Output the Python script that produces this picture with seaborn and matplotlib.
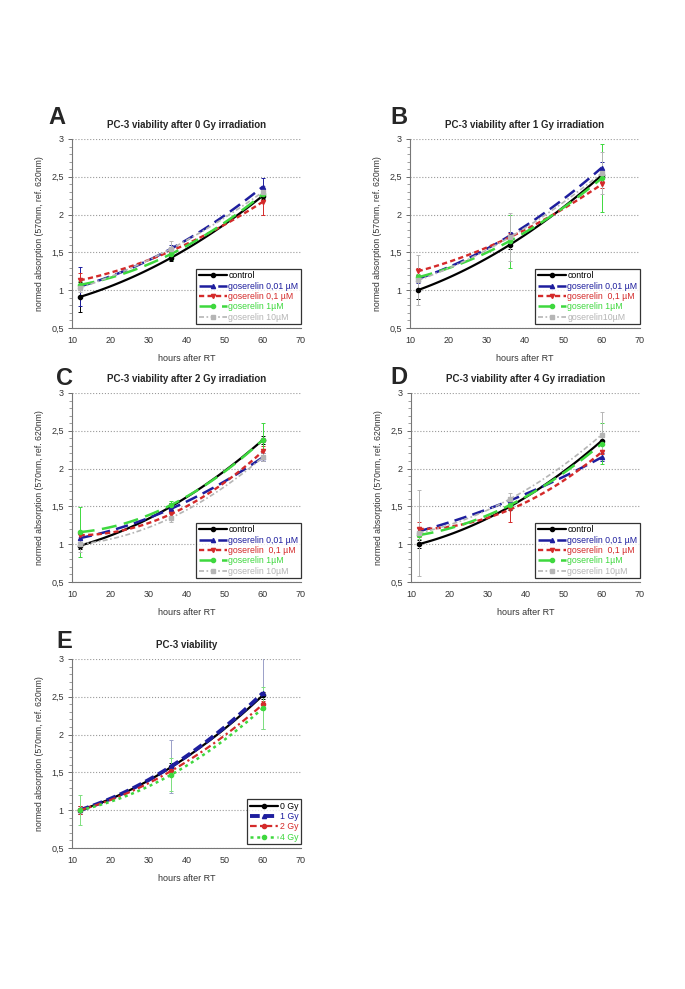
import numpy as np
import pandas as pd
import matplotlib
matplotlib.use("Agg")
import matplotlib.pyplot as plt
import seaborn as sns
from matplotlib.lines import Line2D
from matplotlib.ticker import MultipleLocator

# datos (media y error por punto de tiempo)
hours = [12, 36, 60]
series_gos = ['control', 'goserelin 0,01 µM', 'goserelin 0,1 µM', 'goserelin 1µM', 'goserelin 10µM']
series_gos_b = ['control', 'goserelin 0,01 µM', 'goserelin  0,1 µM', 'goserelin 1µM', 'goserelin10µM']
series_gos_cd = ['control', 'goserelin 0,01 µM', 'goserelin  0,1 µM', 'goserelin 1µM', 'goserelin 10µM']
series_dose = ['0 Gy', '1 Gy', '2 Gy', '4 Gy']

gy0_mean = [[0.91, 1.43, 2.25], [1.05, 1.55, 2.37], [1.13, 1.52, 2.17], [1.07, 1.48, 2.27], [1.03, 1.55, 2.30]]
gy0_err = [[0.20, 0.04, 0.05], [0.26, 0.05, 0.12], [0.10, 0.05, 0.17], [0.05, 0.08, 0.05], [0.05, 0.10, 0.08]]

gy1_mean = [[1.00, 1.60, 2.52], [1.15, 1.72, 2.62], [1.25, 1.70, 2.40], [1.17, 1.65, 2.48], [1.13, 1.70, 2.55]]
gy1_err = [[0.12, 0.05, 0.05], [0.05, 0.05, 0.08], [0.05, 0.05, 0.05], [0.05, 0.35, 0.45], [0.33, 0.32, 0.28]]

gy2_mean = [[0.98, 1.50, 2.38], [1.08, 1.47, 2.15], [1.12, 1.40, 2.23], [1.16, 1.52, 2.38], [1.00, 1.35, 2.15]]
gy2_err = [[0.05, 0.05, 0.05], [0.05, 0.05, 0.05], [0.05, 0.05, 0.07], [0.33, 0.05, 0.22], [0.10, 0.05, 0.05]]

gy4_mean = [[1.00, 1.50, 2.37], [1.17, 1.58, 2.15], [1.20, 1.46, 2.22], [1.12, 1.52, 2.33], [1.15, 1.60, 2.45]]
gy4_err = [[0.05, 0.05, 0.05], [0.05, 0.05, 0.05], [0.10, 0.17, 0.03], [0.05, 0.05, 0.27], [0.57, 0.08, 0.30]]

dose_mean = [[1.00, 1.57, 2.52], [1.00, 1.58, 2.55], [1.00, 1.52, 2.40], [1.00, 1.47, 2.35]]
dose_err = [[0.05, 0.05, 0.05], [0.05, 0.35, 0.48], [0.05, 0.05, 0.05], [0.20, 0.22, 0.28]]

ytick_vals = [0.5, 1, 1.5, 2, 2.5, 3]
ytick_labels = ['0,5', '1', '1,5', '2', '2,5', '3']
xtick_vals = [10, 20, 30, 40, 50, 60, 70]

# estilos
sty_gos = [
    dict(color='black', ls='-', lw=1.6, marker='o', err='black'),
    dict(color='#1e1e9e', ls=(0, (5, 2.5)), lw=1.8, marker='^', err='#1e1e9e'),
    dict(color='#d42a2a', ls=(0, (2.2, 1.4)), lw=1.7, marker='v', err='#d42a2a'),
    dict(color='#3ed83e', ls=(0, (6, 3)), lw=1.8, marker='o', err='#3ed83e'),
    dict(color='#b5b5b5', ls=(0, (3, 1.5, 1, 1.5)), lw=1.2, marker='s', err='#b5b5b5'),
]
sty_dose = [
    dict(color='black', ls='-', lw=1.6, marker='o', err='black'),
    dict(color='#1e1e9e', ls=(0, (2.5, 1.2)), lw=2.8, marker='^', err='#9aa0c8'),
    dict(color='#d42a2a', ls=(0, (3, 1.5, 1, 1.5)), lw=1.6, marker='o', err='#d42a2a'),
    dict(color='#3ed83e', ls=(0, (1.2, 1.5)), lw=1.8, marker='o', err='#7ee07e'),
]

sns.set_style('white')
plt.rcParams['font.family'] = ['Liberation Sans', 'DejaVu Sans']

W, H = 685, 989
fig = plt.figure(figsize=(W / 100, H / 100), dpi=100)


def box(x0, x1, ytop, ybot):
    return [x0 / W, 1 - ybot / H, (x1 - x0) / W, (ybot - ytop) / H]


def draw_panel(ax, means, errs, names, styles, title, leg_fs):
    handles = []
    for m, e, name, st in zip(means, errs, names, styles):
        # curva de tendencia suave (ajuste de seaborn)
        sns.regplot(x=hours, y=m, order=2, ci=None, scatter=False, ax=ax,
                    line_kws=dict(color=st['color'], ls=st['ls'], lw=st['lw']))
        ax.errorbar(hours, m, yerr=e, fmt='none', ecolor=st['err'], elinewidth=0.7,
                    capsize=1.5, capthick=0.7, zorder=1)
        ax.plot(hours, m, ls='none', marker=st['marker'], ms=3.0, color=st['color'],
                mec=st['color'])
        handles.append(Line2D([], [], color=st['color'], ls=st['ls'], lw=st['lw'],
                              marker=st['marker'], ms=3.0, label=name))
    ax.set_xlim(10, 70)
    ax.set_ylim(0.5, 3)
    ax.set_xticks(xtick_vals)
    ax.set_xticklabels([str(v) for v in xtick_vals])
    ax.set_yticks(ytick_vals)
    ax.set_yticklabels(ytick_labels)
    ax.yaxis.set_minor_locator(MultipleLocator(0.1))
    ax.tick_params(axis='both', which='major', labelsize=6.5, colors='#555555',
                   length=3, width=0.6, direction='out', left=True, bottom=False,
                   labelcolor='#333333', pad=3)
    ax.tick_params(axis='y', which='minor', length=2, width=0.5, colors='#777777', left=True)
    ax.yaxis.grid(True, which='major', ls=':', color='#9a9a9a', lw=0.8)
    ax.xaxis.grid(False)
    for s in ['top', 'right']:
        ax.spines[s].set_visible(False)
    for s in ['left', 'bottom']:
        ax.spines[s].set_color('#777777')
        ax.spines[s].set_linewidth(0.8)
    ax.set_xlabel('hours after RT', fontsize=6.5, color='#333333', labelpad=6)
    ax.set_ylabel('normed absorption (570nm, ref. 620nm)', fontsize=6.3, color='#333333',
                  labelpad=5)
    ax.set_title(title, fontsize=7, fontweight='bold', pad=8)
    leg = ax.legend(handles=handles, loc='lower right', bbox_to_anchor=(1.0, 0.02),
                    fontsize=leg_fs, frameon=True, fancybox=False, handlelength=3.2,
                    handletextpad=0.2, borderpad=0.3, labelspacing=0.15,
                    borderaxespad=0)
    leg.get_frame().set_edgecolor('black')
    leg.get_frame().set_linewidth(0.9)
    for txt, st in zip(leg.get_texts(), styles):
        txt.set_color(st['color'])
    return ax


ax_a = fig.add_axes(box(72, 301, 139, 328))
draw_panel(ax_a, gy0_mean, gy0_err, series_gos, sty_gos,
           'PC-3 viability after 0 Gy irradiation', 6.3)
ax_b = fig.add_axes(box(410, 640, 139, 328))
draw_panel(ax_b, gy1_mean, gy1_err, series_gos_b, sty_gos,
           'PC-3 viability after 1 Gy irradiation', 6.3)
ax_c = fig.add_axes(box(72, 301, 393, 582))
draw_panel(ax_c, gy2_mean, gy2_err, series_gos_cd, sty_gos,
           'PC-3 viability after 2 Gy irradiation', 6.3)
ax_d = fig.add_axes(box(411, 640, 393, 582))
draw_panel(ax_d, gy4_mean, gy4_err, series_gos_cd, sty_gos,
           'PC-3 viability after 4 Gy irradiation', 6.3)
ax_e = fig.add_axes(box(72, 301, 659, 848))
draw_panel(ax_e, dose_mean, dose_err, series_dose, sty_dose,
           'PC-3 viability', 6.3)

# letras de los paneles
for letter, (px, py) in zip(['A', 'B', 'C', 'D', 'E'],
                            [(48, 117), (390, 117), (56, 378), (390, 377), (56, 641)]):
    fig.text(px / W, 1 - py / H, letter, fontsize=17, fontweight='bold',
             ha='left', va='center')

fig.savefig('out.png', dpi=100, facecolor='white')
